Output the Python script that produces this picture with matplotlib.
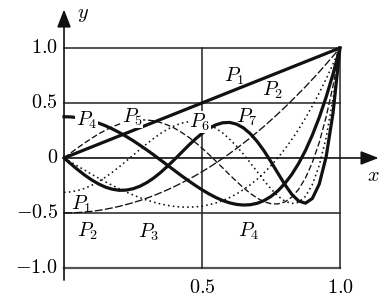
import matplotlib
matplotlib.use('Agg')
import matplotlib.pyplot as plt

plt.rcParams['mathtext.fontset'] = 'cm'

# sample points along x (0 .. 1)
x = [0.0, 0.025, 0.05, 0.075, 0.1, 0.125, 0.15, 0.175, 0.2, 0.225,
     0.25, 0.275, 0.3, 0.325, 0.35, 0.375, 0.4, 0.425, 0.45, 0.475,
     0.5, 0.525, 0.55, 0.575, 0.6, 0.625, 0.65, 0.675, 0.7, 0.725,
     0.75, 0.775, 0.8, 0.825, 0.85, 0.875, 0.9, 0.925, 0.95, 0.975, 1.0]

p1_x = [0.0, 1.0]
p1 = [0.0, 1.0]
p2 = [-0.5, -0.499, -0.496, -0.492, -0.485, -0.477, -0.466, -0.454, -0.44, -0.424,
      -0.406, -0.387, -0.365, -0.342, -0.316, -0.289, -0.26, -0.229, -0.196, -0.162,
      -0.125, -0.087, -0.046, -0.004, 0.04, 0.086, 0.134, 0.183, 0.235, 0.288,
      0.344, 0.401, 0.46, 0.521, 0.584, 0.648, 0.715, 0.783, 0.854, 0.926, 1.0]
p3 = [0.0, -0.037, -0.075, -0.111, -0.148, -0.183, -0.217, -0.249, -0.28, -0.309,
      -0.336, -0.361, -0.383, -0.402, -0.418, -0.431, -0.44, -0.446, -0.447, -0.445,
      -0.438, -0.426, -0.409, -0.387, -0.36, -0.327, -0.288, -0.244, -0.193, -0.135,
      -0.070, 0.001, 0.08, 0.166, 0.26, 0.362, 0.473, 0.591, 0.718, 0.855, 1.0]
p4 = [0.375, 0.373, 0.366, 0.354, 0.338, 0.317, 0.293, 0.264, 0.232, 0.196,
      0.158, 0.116, 0.073, 0.028, -0.019, -0.066, -0.113, -0.160, -0.205, -0.248,
      -0.289, -0.326, -0.359, -0.387, -0.408, -0.422, -0.428, -0.425, -0.412, -0.387,
      -0.350, -0.299, -0.233, -0.151, -0.051, 0.068, 0.208, 0.369, 0.554, 0.764, 1.0]
p5 = [0.0, 0.047, 0.093, 0.137, 0.179, 0.218, 0.252, 0.283, 0.308, 0.327,
      0.340, 0.346, 0.345, 0.338, 0.322, 0.300, 0.271, 0.234, 0.192, 0.143,
      0.090, 0.032, -0.028, -0.090, -0.153, -0.213, -0.270, -0.322, -0.365, -0.398,
      -0.416, -0.418, -0.400, -0.357, -0.286, -0.182, -0.041, 0.142, 0.373, 0.657, 1.0]
p6 = [-0.313, -0.308, -0.296, -0.276, -0.249, -0.215, -0.175, -0.130, -0.081, -0.029,
      0.024, 0.077, 0.129, 0.178, 0.223, 0.261, 0.293, 0.316, 0.329, 0.332,
      0.323, 0.303, 0.271, 0.227, 0.172, 0.107, 0.035, -0.044, -0.125, -0.206,
      -0.281, -0.345, -0.392, -0.414, -0.403, -0.349, -0.241, -0.067, 0.187, 0.537, 1.0]
p7 = [0.0, -0.054, -0.107, -0.156, -0.199, -0.236, -0.265, -0.284, -0.294, -0.292,
      -0.280, -0.257, -0.224, -0.182, -0.132, -0.075, -0.015, 0.048, 0.111, 0.170,
      0.223, 0.268, 0.301, 0.320, 0.323, 0.308, 0.274, 0.221, 0.150, 0.064,
      -0.034, -0.138, -0.240, -0.329, -0.391, -0.411, -0.368, -0.237, 0.011, 0.410, 1.0]

y_ticks = [1.0, 0.5, 0.0, -0.5, -1.0]
y_tick_labels = ['1.0', '0.5', '0', '-0.5', '-1.0']
x_ticks = [0.5, 1.0]
x_tick_labels = ['0.5', '1.0']

# curve labels: (text, x, y)
labels = [('$P_1$', 0.616, 0.745), ('$P_2$', 0.757, 0.618),
          ('$P_4$', 0.082, 0.345), ('$P_5$', 0.247, 0.373),
          ('$P_6$', 0.493, 0.327), ('$P_7$', 0.663, 0.373),
          ('$P_1$', 0.065, -0.418), ('$P_2$', 0.087, -0.664),
          ('$P_3$', 0.308, -0.673), ('$P_4$', 0.670, -0.664)]
boxed = {'$P_4$', '$P_5$', '$P_6$'}

fs = 14.5

fig = plt.figure(figsize=(3.83, 2.99), dpi=100)
ax = fig.add_axes([0, 0, 1, 1])
ax.set_xlim(-0.232, 1.156)
ax.set_ylim(-1.282, 1.436)
ax.axis('off')

# frame / grid
for v in [1.0, 0.5, -0.5]:
    ax.plot([0, 1], [v, v], color='#222222', lw=1.1, zorder=1)
ax.plot([0, 1], [-1, -1], color='#555555', lw=1.6, zorder=1)
ax.plot([0.5, 0.5], [-1, 1], color='#222222', lw=1.1, zorder=1)
ax.plot([1, 1], [-1, 1], color='#222222', lw=1.1, zorder=1)

# axes with arrows
arrow = dict(arrowstyle='-|>,head_length=0.9,head_width=0.35', lw=1.2,
             color='#111111', shrinkA=0, shrinkB=0, mutation_scale=12)
ax.annotate('', xy=(0, 1.35), xytext=(0, -1.11), arrowprops=arrow)
ax.annotate('', xy=(1.14, 0), xytext=(0, 0), arrowprops=arrow)
ax.text(0.068, 1.30, '$y$', fontsize=fs, ha='center', va='center')
ax.text(1.12, -0.16, '$x$', fontsize=fs, ha='center', va='center')

# curves
ax.plot(p1_x, p1, color='#111111', lw=2.3, solid_capstyle='butt', zorder=3)
ax.plot(x, p2, color='#111111', lw=0.95, ls=(0, (6, 1.8)), zorder=3)
ax.plot(x, p3, color='#111111', lw=1.15, ls=(0, (1, 2)), zorder=3)
ax.plot(x, p4, color='#111111', lw=2.3, zorder=3)
ax.plot(x, p5, color='#111111', lw=0.95, ls=(0, (4.5, 2)), zorder=3)
ax.plot(x, p6, color='#111111', lw=1.15, ls=(0, (1, 2)), zorder=3)
ax.plot(x, p7, color='#111111', lw=2.3, zorder=3)

# tick labels
for v, t in zip(y_ticks, y_tick_labels):
    ax.text(-0.022, v, '$' + t + '$', fontsize=fs, ha='right', va='center')
for v, t in zip(x_ticks, x_tick_labels):
    ax.text(v, -1.18, '$' + t + '$', fontsize=fs, ha='center', va='center')

for t, lx, ly in labels:
    kw = {}
    if t in boxed and ly > 0:
        kw['bbox'] = dict(facecolor='white', edgecolor='none', pad=0.3)
    ax.text(lx, ly, t, fontsize=fs, ha='center', va='center', zorder=5, **kw)

fig.savefig('out.png', dpi=100)
